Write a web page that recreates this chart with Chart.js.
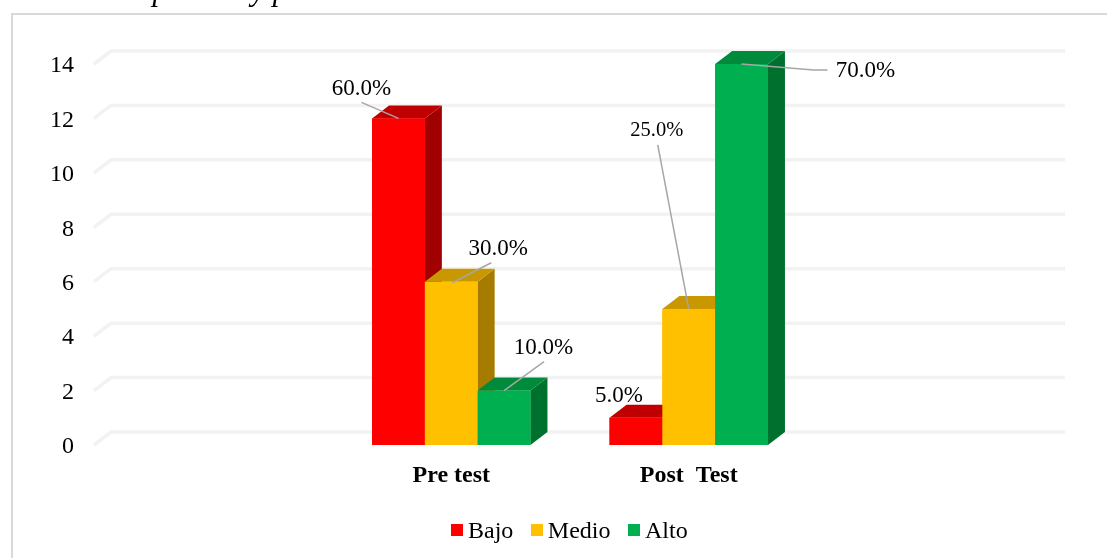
<!DOCTYPE html>
<html lang="es">

<head>
    <meta charset="UTF-8">
    <title>Pre test y post test</title>
    <script src="https://cdn.jsdelivr.net/npm/chart.js"></script>
    <style>
        html, body { margin: 0; height: 100%; background: #fff; overflow: hidden; }
        body { position: relative; font-family: "Liberation Serif", serif; color: #000; }
        /* caption is cut off by the top edge, same as the source image */
        #caption { position: absolute; right: 724px; top: -28px; font-size: 31px; font-style: italic; white-space: nowrap; line-height: 36px; filter: blur(0.4px); }
        #frame { position: absolute; left: 11px; top: 13px; width: 1200px; height: 700px; border: 2px solid #d9d9d9; box-sizing: border-box; }
        #wrap { position: absolute; left: 0; top: 0; width: 1107px; height: 558px; filter: blur(0.45px); }
        #legend { position: absolute; left: 451px; top: 516px; display: flex; font-size: 24px; line-height: 28px; filter: blur(0.4px); }
        #legend div { display: flex; align-items: center; margin-right: 17.5px; }
        #legend i { display: block; width: 12px; height: 12px; margin-right: 5px; }
    </style>
</head>

<body>
    <div id="caption">datos del pre test y post test.</div>
    <div id="frame"></div>
    <div id="wrap"><canvas id="chart" width="1107" height="558"></canvas></div>
    <div id="legend"></div>

    <script>
        // blank first and last categories keep the two groups in the middle
        const categories = ['', 'Pre test', 'Post  Test', ''];
        const yTicks = [0, 2, 4, 6, 8, 10, 12, 14];
        const bajo = [null, 12, 1, null];
        const medio = [null, 6, 5, null];
        const alto = [null, 2, 14, null];
        const bajoPct = [null, '60.0%', '5.0%', null];
        const medioPct = [null, '30.0%', '25.0%', null];
        const altoPct = [null, '10.0%', '70.0%', null];

        const DEPTH_X = 17;
        const DEPTH_Y = 13;

        // label offset from the top centre of its bar, plus the leader line points
        const callouts = [
            { 1: { dx: -37, dy: -29, size: 23, line: [[0, 0], [-37, -16]] },
              2: { dx: -17, dy: -22, size: 23, line: null } },
            { 1: { dx: 47, dy: -33, size: 23, line: [[1, 1], [40, -19]] },
              2: { dx: -32, dy: -178, size: 20.5, line: [[0, 0], [-31, -164]] } },
            { 1: { dx: 39.5, dy: -43, size: 23, line: [[0, 0], [40, -29]] },
              2: { dx: 124, dy: 7, size: 23, line: [[0, 0], [72, 6], [86, 6]] } }
        ];

        const depthPlugin = {
            id: 'depthBars',
            beforeDatasetsDraw(chart) {
                const { ctx, chartArea, scales: { y } } = chart;
                ctx.save();
                ctx.strokeStyle = '#f2f2f2';
                ctx.lineWidth = 3.5;
                yTicks.forEach(v => {
                    const py = y.getPixelForValue(v);
                    ctx.beginPath();
                    ctx.moveTo(chartArea.left - 1, py);
                    ctx.lineTo(chartArea.left + DEPTH_X - 1, py - DEPTH_Y);
                    ctx.lineTo(chartArea.right + DEPTH_X + 3, py - DEPTH_Y);
                    ctx.stroke();
                });
                ctx.restore();
            },
            afterDatasetsDraw(chart) {
                const { ctx } = chart;
                ctx.save();
                // left to right so a later bar covers the side of the one before it
                chart.data.datasets.forEach((ds, i) => {
                    chart.getDatasetMeta(i).data.forEach((bar, j) => {
                        if (ds.data[j] === null) return;
                        const x0 = bar.x - bar.width / 2, x1 = bar.x + bar.width / 2;
                        const top = bar.y, base = bar.base;
                        ctx.fillStyle = ds.sideColor;
                        ctx.beginPath();
                        ctx.moveTo(x1, top);
                        ctx.lineTo(x1 + DEPTH_X, top - DEPTH_Y);
                        ctx.lineTo(x1 + DEPTH_X, base - DEPTH_Y);
                        ctx.lineTo(x1, base);
                        ctx.closePath();
                        ctx.fill();
                        ctx.fillStyle = ds.topColor;
                        ctx.beginPath();
                        ctx.moveTo(x0, top);
                        ctx.lineTo(x0 + DEPTH_X, top - DEPTH_Y);
                        ctx.lineTo(x1 + DEPTH_X, top - DEPTH_Y);
                        ctx.lineTo(x1, top);
                        ctx.closePath();
                        ctx.fill();
                        ctx.fillStyle = ds.backgroundColor;
                        ctx.fillRect(x0, top, x1 - x0, base - top);
                    });
                });
                // percentage labels on top of everything
                ctx.textAlign = 'center';
                ctx.textBaseline = 'middle';
                chart.data.datasets.forEach((ds, i) => {
                    chart.getDatasetMeta(i).data.forEach((bar, j) => {
                        if (ds.data[j] === null) return;
                        const c = callouts[i][j];
                        if (c.line) {
                            ctx.strokeStyle = '#a6a6a6';
                            ctx.lineWidth = 1.5;
                            ctx.beginPath();
                            c.line.forEach((p, k) => {
                                if (k === 0) ctx.moveTo(bar.x + p[0], bar.y + p[1]);
                                else ctx.lineTo(bar.x + p[0], bar.y + p[1]);
                            });
                            ctx.stroke();
                        }
                        ctx.fillStyle = '#000';
                        ctx.font = c.size + 'px "Liberation Serif"';
                        ctx.fillText(ds.pct[j], bar.x + c.dx, bar.y + c.dy);
                    });
                });
                ctx.restore();
            }
        };

        const chart = new Chart(document.getElementById('chart'), {
            type: 'bar',
            data: {
                labels: categories,
                datasets: [
                    { label: 'Bajo', data: bajo, pct: bajoPct, backgroundColor: '#ff0000', topColor: '#c00000', sideColor: '#a00000' },
                    { label: 'Medio', data: medio, pct: medioPct, backgroundColor: '#ffc000', topColor: '#c99700', sideColor: '#a67c00' },
                    { label: 'Alto', data: alto, pct: altoPct, backgroundColor: '#00b050', topColor: '#008a3c', sideColor: '#00702f' }
                ]
            },
            options: {
                responsive: false,
                animation: false,
                layout: { padding: { left: 0, right: 62, top: 64, bottom: 0 } },
                plugins: { legend: { display: false }, tooltip: { enabled: false } },
                datasets: { bar: { categoryPercentage: 0.667, barPercentage: 1 } },
                scales: {
                    x: {
                        grid: { display: false },
                        border: { display: false },
                        ticks: { color: '#000', padding: 8, font: { family: 'Liberation Serif', size: 24, weight: 'bold' } },
                        afterFit(s) { s.height = 113; }
                    },
                    y: {
                        min: yTicks[0],
                        max: yTicks[yTicks.length - 1],
                        grid: { display: false },
                        border: { display: false },
                        afterBuildTicks(s) { s.ticks = yTicks.map(v => ({ value: v })); },
                        ticks: { color: '#000', padding: 13, labelOffset: 2, font: { family: 'Liberation Serif', size: 24 } },
                        afterFit(s) { s.width = 95; }
                    }
                }
            },
            plugins: [depthPlugin]
        });

        // legend sits tighter than the built in one allows
        const legendEl = document.getElementById('legend');
        chart.data.datasets.forEach(ds => {
            const item = document.createElement('div');
            const box = document.createElement('i');
            box.style.background = ds.backgroundColor;
            item.appendChild(box);
            item.appendChild(document.createTextNode(ds.label));
            legendEl.appendChild(item);
        });
    </script>
</body>

</html>
